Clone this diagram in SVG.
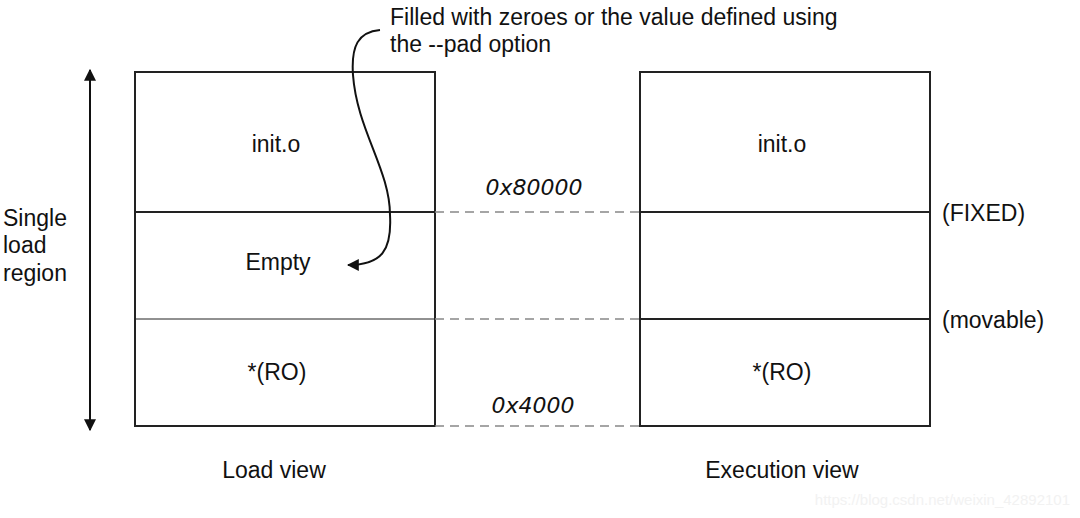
<svg xmlns="http://www.w3.org/2000/svg" width="1080" height="518" viewBox="0 0 1080 518">
<style>
.t{font-family:"Liberation Sans",Arial,sans-serif;font-size:23px;fill:#111}
.m{font-family:"DejaVu Sans",sans-serif;font-style:italic;font-size:22px;fill:#111}
.box{fill:none;stroke:#222;stroke-width:2}
.ln{stroke:#222;stroke-width:2}
.dash{stroke:#888;stroke-width:1.3;stroke-dasharray:9 6}
</style>
<defs>
<marker id="ah" viewBox="0 0 10 10" refX="9" refY="5" markerWidth="12" markerHeight="12" markerUnits="userSpaceOnUse" orient="auto-start-reverse">
<path d="M0,0 L10,5 L0,10 z" fill="#111"/>
</marker>
</defs>
<rect width="1080" height="518" fill="#fff"/>
<g id="load-view">
<rect class="box" x="135" y="72" width="300" height="354"/>
<line class="ln" x1="135" y1="212" x2="435" y2="212"/>
<line x1="135" y1="319" x2="435" y2="319" stroke="#222" stroke-width="1"/>
<text class="t" x="276" y="152" text-anchor="middle">init.o</text>
<text class="t" x="278" y="270" text-anchor="middle">Empty</text>
<text class="t" x="277" y="380" text-anchor="middle">*(RO)</text>
<text class="t" x="274" y="478" text-anchor="middle">Load view</text>
</g>
<g id="exec-view">
<rect class="box" x="640" y="72" width="290" height="354"/>
<line class="ln" x1="640" y1="212" x2="930" y2="212"/>
<line class="ln" x1="640" y1="319" x2="930" y2="319"/>
<text class="t" x="782" y="152" text-anchor="middle">init.o</text>
<text class="t" x="782" y="380" text-anchor="middle">*(RO)</text>
<text class="t" x="782" y="478" text-anchor="middle">Execution view</text>
<text class="t" x="942" y="221">(FIXED)</text>
<text class="t" x="942" y="328">(movable)</text>
</g>
<g id="region-label">
<text class="t" x="3" y="226">Single</text>
<text class="t" x="3" y="253">load</text>
<text class="t" x="3" y="281">region</text>
</g>
<g id="note">
<text class="t" x="390" y="25">Filled with zeroes or the value defined using</text>
<text class="t" x="390" y="52">the --pad option</text>
</g>
<g id="connectors" fill="none">
<line x1="90" y1="70" x2="90" y2="430" stroke="#111" stroke-width="2" marker-start="url(#ah)" marker-end="url(#ah)"/>
<line class="dash" x1="435" y1="212" x2="640" y2="212"/>
<line class="dash" x1="435" y1="319" x2="640" y2="319"/>
<line class="dash" x1="435" y1="426" x2="640" y2="426"/>
<path d="M380 30 C358 32 351 46 353 75 C357 130 390 170 390 215 C392 250 382 265 348 265" stroke="#111" stroke-width="2" marker-end="url(#ah)"/>
<text class="m" x="534" y="195" text-anchor="middle">0x80000</text>
<text class="m" x="533" y="413" text-anchor="middle">0x4000</text>
</g>
<text x="1070" y="505" text-anchor="end" font-family="Liberation Sans,Arial,sans-serif" font-size="15" fill="#f2f2f2">https://blog.csdn.net/weixin_42892101</text>
</svg>
